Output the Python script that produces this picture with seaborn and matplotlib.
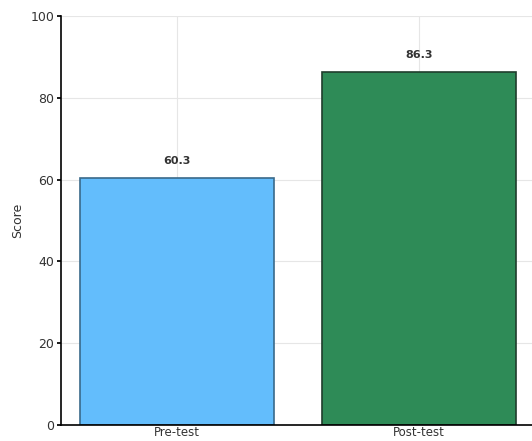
import matplotlib
matplotlib.use("Agg")
import matplotlib.pyplot as plt
import seaborn as sns
import pandas as pd

phases = ["Pre-test", "Post-test"]
scores = [60.3, 86.3]
bar_colors = ["#63bdfc", "#2e8b57"]
edge_colors = ["#3a6a8a", "#1f3d2c"]

sns.set_theme(style="whitegrid")
plt.rcParams["font.family"] = ["DejaVu Sans"]

df = pd.DataFrame({"Phase": phases, "Score": scores})

fig = plt.figure(figsize=(5.32, 4.41), dpi=100)
ax = fig.add_axes([61 / 532, 16 / 441, 474 / 532, 409 / 441])

sns.barplot(data=df, x="Phase", y="Score", hue="Phase", palette=bar_colors,
            legend=False, width=0.8, ax=ax, saturation=1)
for patch, ec in zip(ax.patches, edge_colors):
    patch.set_edgecolor(ec)
    patch.set_linewidth(1.2)

for i, v in enumerate(scores):
    ax.annotate(f"{v:.1f}", (i, v), xytext=(0, 9), textcoords="offset points",
                ha="center", va="bottom", fontsize=8, fontweight="bold",
                color="#333333")

ax.set_xlim(-0.48, 1.48)
ax.set_ylim(0, 100)
ax.set_yticks([0, 20, 40, 60, 80, 100])
ax.set_xlabel("")
ax.set_ylabel("Score", fontsize=9, color="#333333")
ax.tick_params(axis="y", labelsize=9, colors="#333333", length=3, pad=2,
               left=True)
ax.tick_params(axis="y", color="black")
ax.tick_params(axis="x", labelsize=8.5, colors="#333333", length=0, pad=1)
ax.grid(True, color="#e6e6e6", linewidth=0.8)
ax.set_axisbelow(True)
for side in ["top", "right"]:
    ax.spines[side].set_visible(False)
for side in ["left", "bottom"]:
    ax.spines[side].set_visible(True)
    ax.spines[side].set_color("black")
    ax.spines[side].set_linewidth(1.2)
ax.set_facecolor("white")

fig.savefig("out.png", dpi=100, facecolor="white")
